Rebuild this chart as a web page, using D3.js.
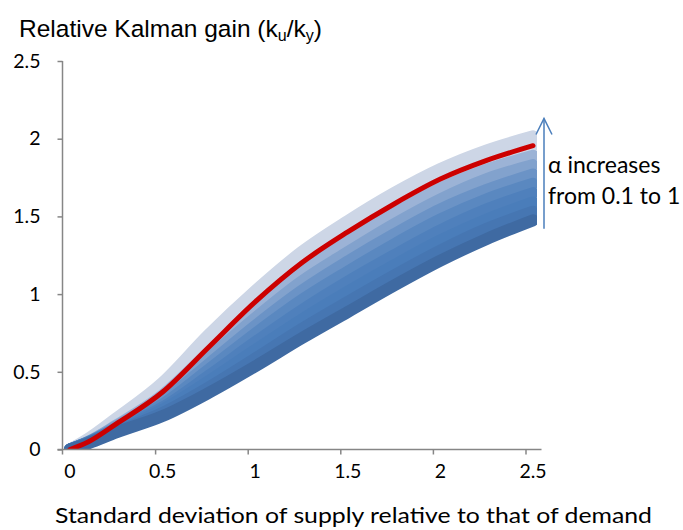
<!DOCTYPE html>
<html>
<head>
<meta charset="utf-8">
<script src="https://cdn.jsdelivr.net/npm/d3@7"></script>
<style>
  html, body { margin: 0; padding: 0; background: #ffffff; }
  svg { display: block; }
</style>
</head>
<body>
<svg id="chart" width="683" height="530"></svg>
<script>
// ---- data ----
const xValues = [0, 0.1, 0.25, 0.5, 0.75, 1.0, 1.25, 1.5, 1.75, 2.0, 2.25, 2.5];
const alphas = [0.1, 0.2, 0.3, 0.4, 0.5, 0.6, 0.7, 0.8, 0.9, 1.0];
const gain01 = [0, 0.04, 0.11, 0.215, 0.365, 0.535, 0.715, 0.885, 1.055, 1.215, 1.355, 1.475];
const gain02 = [0, 0.045, 0.115, 0.235, 0.40, 0.585, 0.775, 0.95, 1.12, 1.28, 1.42, 1.53];
const gain03 = [0, 0.045, 0.12, 0.255, 0.44, 0.64, 0.835, 1.015, 1.185, 1.345, 1.48, 1.59];
const gain04 = [0, 0.046, 0.13, 0.27, 0.475, 0.69, 0.895, 1.08, 1.25, 1.41, 1.545, 1.65];
const gain05 = [0, 0.047, 0.135, 0.29, 0.515, 0.745, 0.96, 1.145, 1.32, 1.48, 1.61, 1.71];
const gain06 = [0, 0.048, 0.14, 0.31, 0.55, 0.795, 1.02, 1.21, 1.385, 1.545, 1.67, 1.77];
const gain07 = [0, 0.049, 0.15, 0.33, 0.59, 0.845, 1.08, 1.27, 1.45, 1.61, 1.74, 1.83];
const gain08 = [0, 0.05, 0.155, 0.35, 0.625, 0.90, 1.14, 1.34, 1.52, 1.68, 1.80, 1.89];
const gain09 = [0, 0.05, 0.165, 0.37, 0.66, 0.95, 1.20, 1.40, 1.58, 1.74, 1.86, 1.955];
const gain10 = [0, 0.07, 0.2, 0.43, 0.74, 1.02, 1.27, 1.47, 1.65, 1.805, 1.925, 2.015];
const seriesValues = [gain01, gain02, gain03, gain04, gain05, gain06, gain07, gain08, gain09, gain10];
const seriesColors = ["#3f6aa2", "#4676b2", "#4a7dba", "#4f80bc", "#5a88c0", "#6b93c6", "#82a2cd", "#9cb3d6", "#cdd6e6", "#cdd6e6"];
const highlightAlpha = 0.9;
const xTicks = [0, 0.5, 1, 1.5, 2, 2.5];
const yTicks = [0, 0.5, 1, 1.5, 2, 2.5];
const titleText = "Relative Kalman gain";
const xTitle = "Standard deviation of supply relative to that of demand";
const noteLines = ["α increases", "from 0.1 to 1"];

// ---- layout ----
const svg = d3.select("#chart");
const x = d3.scaleLinear().domain([0, 2.5]).range([70, 533]);
const y = d3.scaleLinear().domain([0, 2.5]).range([449.5, 61]);
const axisColor = "#868686";
const plotLeft = 62.5, plotRight = 541.5;

svg.append("defs").append("clipPath").attr("id", "plotclip")
  .append("rect").attr("x", plotLeft).attr("y", y(2.5) - 20)
  .attr("width", x(2.5) + 4 - plotLeft).attr("height", y(0) - y(2.5) + 20);

// series lines (top alpha first, lower alphas drawn over)
const line = d3.line()
  .x((d, i) => x(xValues[i]))
  .y(d => y(d))
  .curve(d3.curveMonotoneX);

const g = svg.append("g").attr("clip-path", "url(#plotclip)");
for (let k = seriesValues.length - 1; k >= 0; k--) {
  g.append("path")
    .datum(seriesValues[k])
    .attr("d", line)
    .attr("fill", "none")
    .attr("stroke", seriesColors[k])
    .attr("stroke-width", 12)
    .attr("stroke-linejoin", "round")
    .attr("stroke-linecap", "round");
}
const hi = alphas.indexOf(highlightAlpha);
g.append("path")
  .datum(seriesValues[hi])
  .attr("d", line)
  .attr("fill", "none")
  .attr("stroke", "#cc0000")
  .attr("stroke-width", 5)
  .attr("stroke-linejoin", "round")
  .attr("stroke-linecap", "round");

// y axis
const yAxis = d3.axisLeft(y).tickValues(yTicks).tickSize(5).tickSizeOuter(0)
  .tickFormat(d => d3.format("")(d));
const yG = svg.append("g").attr("transform", `translate(${plotLeft},0)`).call(yAxis);
yG.select(".domain").attr("stroke", axisColor).attr("stroke-width", 1.5)
  .attr("d", `M0,${y(2.5)}V${y(0) + 5}`);
yG.selectAll(".tick line").attr("stroke", axisColor).attr("stroke-width", 1.5);
yG.selectAll(".tick text")
  .attr("x", -22)
  .attr("font-family", "Lato, 'Open Sans', sans-serif")
  .attr("font-size", 19.5)
  .attr("fill", "#000");

// x axis: ticks sit half a category left of labels
const xTickScale = d3.scaleLinear().domain([0, 2.5]).range([x(0) - 7.5, x(2.5) - 7.5]);
const xAxis = d3.axisBottom(xTickScale).tickValues(xTicks.slice(1)).tickSize(5).tickSizeOuter(0).tickFormat("");
const xG = svg.append("g").attr("transform", `translate(0,${y(0)})`).call(xAxis);
xG.select(".domain").attr("stroke", axisColor).attr("stroke-width", 1.5)
  .attr("d", `M${plotLeft - 5},0H${plotRight}`);
xG.selectAll(".tick line").attr("stroke", axisColor).attr("stroke-width", 1.5);

svg.append("g").selectAll("text").data(xTicks).join("text")
  .attr("x", d => x(d))
  .attr("y", 478)
  .attr("text-anchor", "middle")
  .attr("font-family", "Lato, 'Open Sans', sans-serif")
  .attr("font-size", 19.5)
  .attr("fill", "#000")
  .text(d => d3.format("")(d));

// title
const t = svg.append("text")
  .attr("x", 19).attr("y", 37)
  .attr("font-family", "'Liberation Sans', Arial, sans-serif")
  .attr("font-size", 24.5)
  .attr("fill", "#000");
t.append("tspan").text(titleText + " (k");
t.append("tspan").attr("font-size", 16).attr("dy", 4).text("u");
t.append("tspan").attr("dy", -4).text("/k");
t.append("tspan").attr("font-size", 16).attr("dy", 4).text("y");
t.append("tspan").attr("dy", -4).text(")");

// x title
svg.append("text")
  .attr("x", 55).attr("y", 523)
  .attr("font-family", "Lato, 'Open Sans', sans-serif")
  .attr("font-size", 22)
  .attr("textLength", 597)
  .attr("lengthAdjust", "spacingAndGlyphs")
  .attr("fill", "#000")
  .text(xTitle);

// annotation arrow
const arrowX = 544;
const ag = svg.append("g").attr("stroke", "#4a7ebb").attr("stroke-width", 1.5).attr("fill", "none");
ag.append("line").attr("x1", arrowX).attr("x2", arrowX).attr("y1", y(1.42)).attr("y2", y(2.13));
ag.append("path").attr("d", `M${arrowX - 8},${y(2.13) + 16}L${arrowX},${y(2.13)}L${arrowX + 8},${y(2.13) + 16}`);

svg.append("g").selectAll("text").data(noteLines).join("text")
  .attr("x", 548)
  .attr("y", (d, i) => 173 + i * 31)
  .attr("font-family", "Lato, 'Open Sans', sans-serif")
  .attr("font-size", 23)
  .attr("fill", "#000")
  .text(d => d);
</script>
</body>
</html>
